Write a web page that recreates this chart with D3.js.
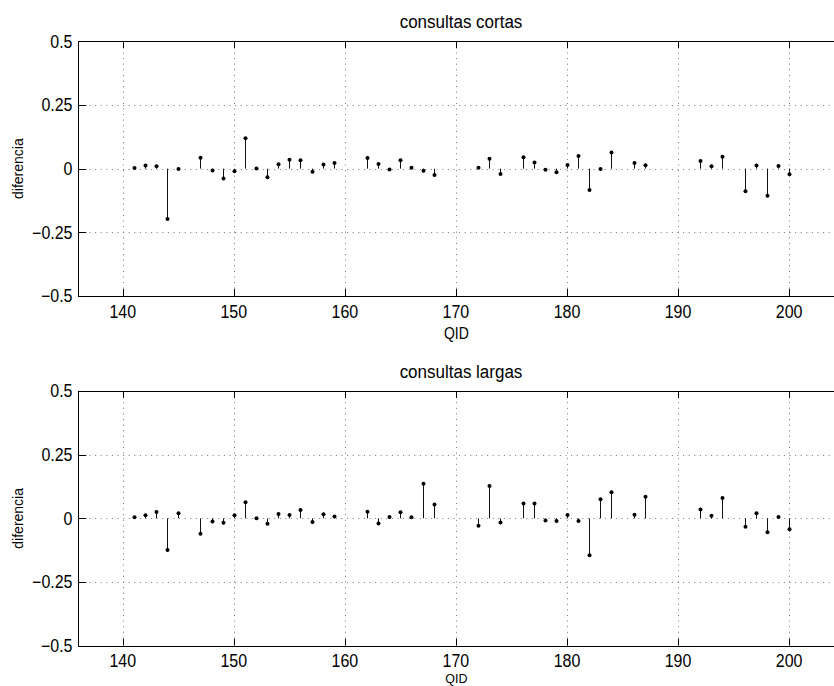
<!DOCTYPE html>
<html><head><meta charset="utf-8">
<script src="https://cdn.jsdelivr.net/npm/d3@7"></script>
<style>body{margin:0;background:#fff}svg{display:block}text{font-family:"Liberation Sans",Arial,Helvetica,sans-serif;fill:#000}</style>
</head><body><svg id="c" width="834" height="686"></svg>
<script>
const qid = [141,142,143,144,145,147,148,149,150,151,152,153,154,155,156,157,158,159,162,163,164,165,166,167,168,172,173,174,176,177,178,179,180,181,182,183,184,186,187,192,193,194,196,197,198,199,200];
const cortas = [0.003,0.012,0.009,-0.198,-0.001,
  0.043,-0.007,-0.039,-0.010,0.119,0.001,-0.034,0.017,0.035,0.033,-0.012,0.016,0.022,
  0.042,0.018,-0.003,0.033,0.004,-0.008,-0.025,
  0.004,0.039,-0.021,
  0.045,0.024,-0.004,-0.014,0.014,0.050,-0.084,-0.001,0.063,
  0.022,0.013,
  0.030,0.009,0.047,
  -0.089,0.012,-0.106,0.010,-0.022];
const largas = [0.004,0.012,0.025,-0.124,0.020,
  -0.060,-0.012,-0.017,0.012,0.063,0.000,-0.021,0.017,0.013,0.033,-0.014,0.016,0.007,
  0.026,-0.020,0.005,0.024,0.004,0.136,0.054,
  -0.029,0.127,-0.016,
  0.058,0.058,-0.008,-0.010,0.013,-0.010,-0.145,0.075,0.102,
  0.014,0.085,
  0.035,0.010,0.080,
  -0.033,0.020,-0.055,0.005,-0.043];
const xTicks = [140,150,160,170,180,190,200];
const yTicks = [-0.5,-0.25,0,0.25,0.5];
const yTickLabels = ["\u22120.5","\u22120.25","0","0.25","0.5"];
const titles = ["consultas cortas","consultas largas"];
const xLabel = "QID", yLabel = "diferencia";

const svg = d3.select("#c");
const x = d3.scaleLinear().domain([136,204]).range([78.3,833.5]);

function txt(g, s, tx, ty, size, sy, anchor){
  return g.append("text").attr("transform",`translate(${tx},${ty}) scale(1,${sy})`)
    .attr("text-anchor",anchor).style("font-size",size+"px").text(s);
}

function panel(top, bottom, vals, title, qidOffset, qidSize, qidScale){
  const y = d3.scaleLinear().domain([-0.5,0.5]).range([bottom, top]);
  const g = svg.append("g");
  const x0 = x.range()[0], x1 = 834;
  g.selectAll(".vg").data(xTicks).join("line")
    .attr("x1",d=>Math.round(x(d))+0.5).attr("x2",d=>Math.round(x(d))+0.5)
    .attr("y1",top).attr("y2",bottom)
    .attr("stroke","#777").attr("stroke-width",1).attr("stroke-dasharray","1,4.6");
  g.selectAll(".hg").data(yTicks.filter(d=>d>-0.5&&d<0.5)).join("line")
    .attr("y1",d=>Math.round(y(d))+0.5).attr("y2",d=>Math.round(y(d))+0.5)
    .attr("x1",x0).attr("x2",x1)
    .attr("stroke","#777").attr("stroke-width",1).attr("stroke-dasharray","1,4.6");
  g.append("line").attr("x1",x0).attr("x2",x1).attr("y1",Math.round(top)+0.5).attr("y2",Math.round(top)+0.5).attr("stroke","#000");
  g.append("line").attr("x1",x0).attr("x2",x1).attr("y1",Math.round(bottom)+0.5).attr("y2",Math.round(bottom)+0.5).attr("stroke","#000");
  g.append("line").attr("x1",Math.round(x0)+0.5).attr("x2",Math.round(x0)+0.5).attr("y1",top).attr("y2",bottom+0.5).attr("stroke","#000");
  xTicks.forEach(d=>{
    const xx = Math.round(x(d))+0.5;
    g.append("line").attr("x1",xx).attr("x2",xx).attr("y1",bottom).attr("y2",bottom-7).attr("stroke","#000");
    g.append("line").attr("x1",xx).attr("x2",xx).attr("y1",top).attr("y2",top+7).attr("stroke","#000");
    txt(g, String(d), x(d), bottom+21.5, 16, 1.12, "middle");
  });
  yTicks.forEach((d,i)=>{
    const yy = Math.round(y(d))+0.5;
    g.append("line").attr("x1",x0).attr("x2",x0+8).attr("y1",yy).attr("y2",yy).attr("stroke","#000");
    txt(g, yTickLabels[i], 72.5, y(d)+6.4, 16, 1.12, "end");
  });
  const data = qid.map((q,i)=>({q, v: vals[i]}));
  g.selectAll(".stem").data(data).join("line")
    .attr("x1",d=>Math.round(x(d.q))+0.5).attr("x2",d=>Math.round(x(d.q))+0.5)
    .attr("y1",y(0)).attr("y2",d=>y(d.v))
    .attr("stroke","#111").attr("stroke-width",1);
  g.selectAll(".dot").data(data).join("circle")
    .attr("cx",d=>Math.round(x(d.q))+0.5).attr("cy",d=>y(d.v)).attr("r",2)
    .attr("fill","#000");
  txt(g, title, 461, top-13, 17, 1.06, "middle");
  txt(g, xLabel, x(170)+0.5, bottom+qidOffset, qidSize, qidScale, "middle");
  g.append("text").attr("transform",`translate(23,${(top+bottom)/2}) rotate(-90)`)
    .attr("text-anchor","middle").style("font-size","14px").text(yLabel);
}
panel(41.3, 296, cortas, titles[0], 42.5, 14, 1.22);
panel(391, 645.7, largas, titles[1], 37.6, 12.5, 1.05);
</script></body></html>
